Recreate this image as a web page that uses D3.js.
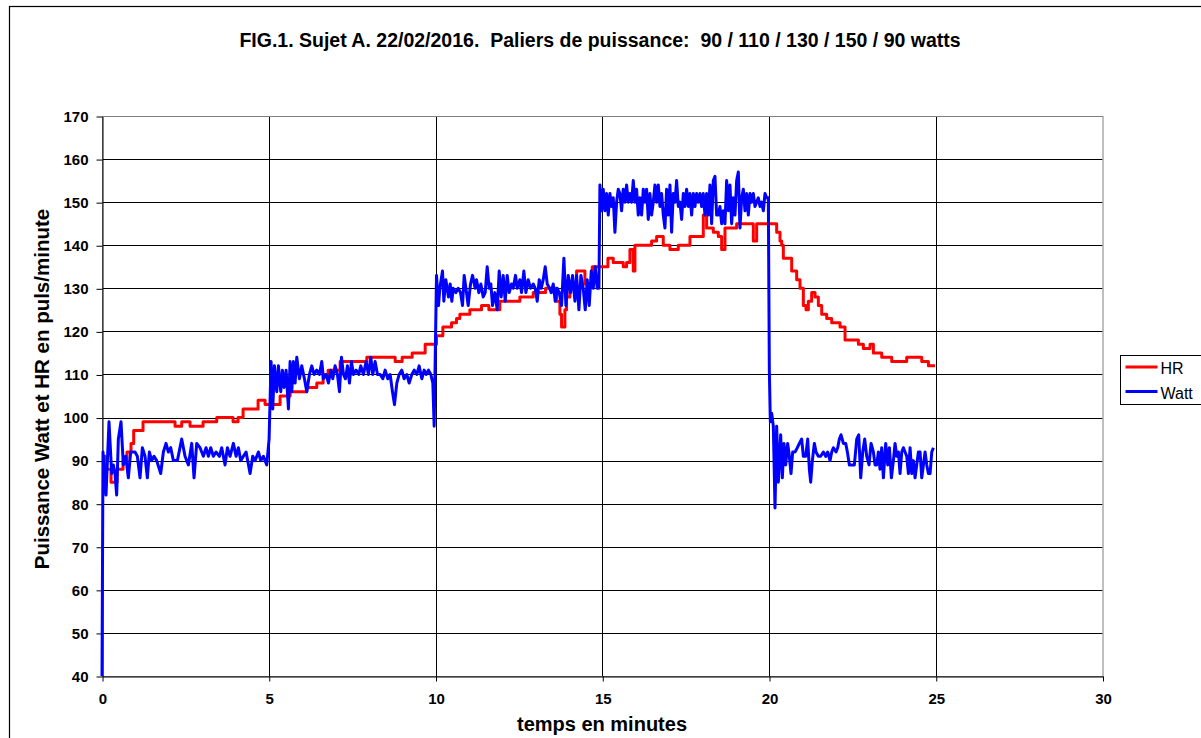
<!DOCTYPE html>
<html>
<head>
<meta charset="utf-8">
<script src="https://cdn.jsdelivr.net/npm/d3@7"></script>
<style>
  body { margin: 0; background: #fff; }
  svg { display: block; font-family: "Liberation Sans", Arial, sans-serif; }
</style>
</head>
<body>
<div id="chart"></div>
<script>
// tick labels
var xTicks = [0, 5, 10, 15, 20, 25, 30];
var yTicks = [40, 50, 60, 70, 80, 90, 100, 110, 120, 130, 140, 150, 160, 170];

// HR (puls/minute) : [minute, value]
var hrData = [[0,91],[0.1,88],[0.27,85],[0.45,88],[0.63,90],[0.75,92],[0.87,94],[0.95,97],[1.23,99],[2.19,98],[2.39,99],[2.64,98],[3.03,99],[3.44,100],[3.93,99],[4.08,100],[4.23,102],[4.68,104],[4.89,103],[5.34,105],[5.64,106],[6.14,107],[6.44,108],[6.63,110],[6.78,111],[7.14,113],[7.94,114],[8.79,113],[9.0,114],[9.3,115],[9.69,117],[10.03,119],[10.22,121],[10.48,122],[10.63,123],[10.73,124],[11.03,125],[11.38,126],[11.6,125],[11.93,127],[12.53,128],[12.93,129],[13.3,130],[13.63,127],[13.73,124],[13.78,121],[13.88,125],[13.93,128],[14.03,131],[14.23,134],[14.48,131],[14.7,135],[15.17,137],[15.33,136],[15.63,135],[15.73,136],[15.83,139],[15.93,134],[15.98,140],[16.48,141],[16.63,142],[16.83,140],[17.03,139],[17.28,140],[17.63,142],[18.03,147],[18.13,144],[18.33,143],[18.48,142],[18.58,139],[18.68,144],[19.03,145],[19.53,141],[19.63,145],[20.23,143],[20.33,141],[20.38,140],[20.43,137],[20.68,134],[20.83,132],[20.93,130],[21.03,126],[21.11,125],[21.18,127],[21.28,129],[21.38,128],[21.48,126],[21.58,124],[21.73,123],[21.88,122],[22.13,121],[22.28,118],[22.68,117],[22.83,116],[23.03,117],[23.13,115],[23.38,114],[23.68,113],[24.13,114],[24.58,113],[24.78,112],[24.98,112]];

// Watt, one array per power stage : [minute, value]
var watt90a = [[0,40],[0.03,92],[0.12,82],[0.21,99],[0.29,87],[0.34,89],[0.39,87],[0.44,82],[0.49,95],[0.57,99],[0.64,89],[0.71,91],[0.79,86],[0.86,92],[0.99,92],[1.06,91],[1.14,86],[1.21,93],[1.29,91],[1.36,86],[1.42,92],[1.49,90],[1.56,91],[1.64,90],[1.76,87],[1.84,92],[1.92,94],[1.99,92],[2.06,93],[2.14,90],[2.26,90],[2.39,95],[2.49,91],[2.59,89],[2.69,94],[2.76,86],[2.84,94],[2.94,93],[3.04,91],[3.12,93],[3.19,91],[3.26,93],[3.34,91],[3.42,92],[3.52,91],[3.59,93],[3.69,89],[3.76,93],[3.84,91],[3.94,94],[4.02,91],[4.09,93],[4.16,90],[4.24,91],[4.32,92],[4.44,87],[4.52,91],[4.59,90],[4.69,92],[4.76,90],[4.84,91],[4.94,89],[5.01,95]];
var watt110 = [[5.07,113],[5.12,102],[5.17,112],[5.24,106],[5.29,112],[5.36,106],[5.41,111],[5.46,107],[5.52,111],[5.59,102],[5.64,113],[5.69,106],[5.74,113],[5.79,108],[5.84,114],[5.92,109],[5.99,112],[6.07,109],[6.14,106],[6.22,110],[6.29,112],[6.36,110],[6.44,111],[6.52,110],[6.59,113],[6.64,109],[6.72,110],[6.79,108],[6.86,111],[6.92,109],[6.99,112],[7.06,110],[7.12,106],[7.18,114],[7.24,110],[7.3,109],[7.36,112],[7.42,108],[7.48,113],[7.54,110],[7.62,111],[7.7,110],[7.76,112],[7.84,110],[7.92,113],[7.99,110],[8.06,114],[8.12,110],[8.19,113],[8.26,110],[8.34,110],[8.42,109],[8.49,111],[8.57,109],[8.64,110],[8.71,106],[8.77,103],[8.84,108],[8.91,110],[8.99,111],[9.06,109],[9.14,110],[9.21,108],[9.29,110],[9.36,111],[9.44,110],[9.51,112],[9.59,109],[9.66,111],[9.72,110],[9.79,111],[9.86,110],[9.92,108],[9.96,98]];
var watt130 = [[10.03,133],[10.09,126],[10.13,130],[10.21,134],[10.25,127],[10.31,132],[10.39,128],[10.44,131],[10.49,127],[10.53,130],[10.61,129],[10.68,130],[10.75,129],[10.81,126],[10.86,133],[10.93,129],[10.98,126],[11.05,131],[11.11,133],[11.19,130],[11.23,132],[11.3,129],[11.36,131],[11.43,128],[11.49,129],[11.55,135],[11.61,130],[11.66,131],[11.71,126],[11.78,129],[11.85,125],[11.91,134],[11.97,128],[12.03,133],[12.09,127],[12.15,133],[12.21,129],[12.28,131],[12.33,130],[12.4,133],[12.45,130],[12.53,132],[12.58,129],[12.65,134],[12.71,129],[12.78,132],[12.85,130],[12.93,131],[12.99,130],[13.05,127],[13.11,132],[13.17,130],[13.23,132],[13.29,135],[13.35,131],[13.42,130],[13.47,129],[13.53,131],[13.59,127],[13.65,130],[13.71,129],[13.78,126],[13.85,137],[13.91,126],[13.98,133],[14.05,129],[14.11,133],[14.18,127],[14.23,133],[14.3,125],[14.36,133],[14.43,130],[14.49,125],[14.55,132],[14.61,126],[14.67,134],[14.73,130],[14.79,135],[14.85,130],[14.9,130]];
var watt150 = [[14.93,154],[14.98,148],[15.03,153],[15.08,148],[15.13,152],[15.18,147],[15.23,152],[15.28,149],[15.33,151],[15.38,143],[15.43,150],[15.48,153],[15.53,152],[15.58,148],[15.63,153],[15.68,150],[15.73,154],[15.78,150],[15.83,152],[15.88,150],[15.93,155],[15.98,150],[16.03,153],[16.08,147],[16.13,151],[16.18,147],[16.23,153],[16.28,150],[16.33,153],[16.38,146],[16.43,152],[16.48,147],[16.53,150],[16.58,154],[16.63,150],[16.68,154],[16.73,149],[16.78,152],[16.83,147],[16.88,144],[16.93,153],[16.98,147],[17.03,154],[17.08,143],[17.13,152],[17.18,150],[17.23,155],[17.28,149],[17.33,150],[17.38,146],[17.43,152],[17.48,149],[17.53,153],[17.58,149],[17.63,152],[17.68,147],[17.73,152],[17.78,149],[17.83,152],[17.88,150],[17.93,152],[17.98,149],[18.03,152],[18.08,147],[18.13,152],[18.18,147],[18.23,154],[18.28,145],[18.33,155],[18.38,156],[18.43,147],[18.48,147],[18.53,149],[18.58,145],[18.63,148],[18.68,145],[18.73,155],[18.78,148],[18.83,154],[18.88,145],[18.93,151],[18.98,147],[19.03,155],[19.08,157],[19.13,144],[19.18,151],[19.23,153],[19.28,148],[19.33,152],[19.38,147],[19.43,152],[19.48,150],[19.53,152],[19.58,149],[19.63,150],[19.68,151],[19.73,149],[19.78,150],[19.83,148],[19.88,152],[19.93,151],[19.98,151]];
var watt90b = [[20.01,111],[20.04,99],[20.08,101],[20.13,98],[20.18,79],[20.23,98],[20.28,85],[20.35,96],[20.4,86],[20.45,94],[20.5,89],[20.56,94],[20.61,91],[20.66,87],[20.71,92],[20.78,92],[20.85,93],[20.91,94],[20.98,95],[21.03,91],[21.1,91],[21.16,95],[21.21,88],[21.25,85],[21.3,90],[21.36,94],[21.41,92],[21.48,91],[21.55,91],[21.63,92],[21.7,91],[21.76,92],[21.83,90],[21.88,92],[21.93,93],[22.01,92],[22.06,93],[22.11,95],[22.16,96],[22.23,94],[22.3,94],[22.35,92],[22.41,89],[22.48,89],[22.56,89],[22.63,95],[22.69,96],[22.75,86],[22.81,92],[22.87,95],[22.93,91],[23.0,89],[23.06,94],[23.13,92],[23.18,89],[23.23,89],[23.28,92],[23.33,88],[23.38,93],[23.43,86],[23.5,94],[23.56,89],[23.61,93],[23.67,86],[23.73,90],[23.78,94],[23.83,91],[23.88,92],[23.93,87],[23.98,92],[24.03,93],[24.08,92],[24.13,91],[24.18,87],[24.23,93],[24.28,87],[24.33,90],[24.38,86],[24.43,89],[24.48,92],[24.53,92],[24.58,86],[24.63,89],[24.68,92],[24.73,89],[24.78,87],[24.83,87],[24.88,92],[24.93,93]];

var wattData = watt90a.concat(watt110, watt130, watt150, watt90b);

var width = 1201, height = 738;
var plot = { left: 102, right: 1102.5, top: 116, bottom: 676 };

var svg = d3.select('#chart').append('svg')
    .attr('width', width)
    .attr('height', height);

// outer chart frame (runs off the right and bottom of the picture)
svg.append('rect')
    .attr('x', 9.5).attr('y', 6.5)
    .attr('width', 1210).attr('height', 760)
    .attr('fill', 'none')
    .attr('stroke', '#000')
    .attr('stroke-width', 1.2);

var x = d3.scaleLinear().domain([0, 30]).range([plot.left, plot.right]);
var y = d3.scaleLinear().domain([40, 170]).range([plot.bottom, plot.top]);

// gridlines
var grid = svg.append('g').attr('class', 'grid');
grid.selectAll('line.h')
    .data(yTicks)
    .enter().append('line')
    .attr('class', 'h')
    .attr('x1', plot.left).attr('x2', plot.right)
    .attr('y1', (d) => Math.round(y(d)) + 0.5)
    .attr('y2', (d) => Math.round(y(d)) + 0.5)
    .attr('stroke', '#000')
    .attr('stroke-width', 1);
grid.selectAll('line.v')
    .data(xTicks.slice(1, -1))
    .enter().append('line')
    .attr('class', 'v')
    .attr('y1', plot.top).attr('y2', plot.bottom)
    .attr('x1', (d) => Math.round(x(d)) + 0.5)
    .attr('x2', (d) => Math.round(x(d)) + 0.5)
    .attr('stroke', '#000')
    .attr('stroke-width', 1);

// plot area border
svg.append('rect')
    .attr('x', plot.left + 0.5).attr('y', plot.top + 0.5)
    .attr('width', plot.right - plot.left).attr('height', plot.bottom - plot.top)
    .attr('fill', 'none')
    .attr('stroke', '#808080');

// axes
var yAxis = svg.append('g')
    .attr('transform', 'translate(' + (plot.left + 0.5) + ',0.5)')
    .call(d3.axisLeft(y).tickValues(yTicks).tickSize(6).tickPadding(8).tickSizeOuter(0));
var xAxis = svg.append('g')
    .attr('transform', 'translate(0.5,' + (plot.bottom + 0.5) + ')')
    .call(d3.axisBottom(x).tickValues(xTicks).tickSize(5).tickPadding(12).tickSizeOuter(0));

[xAxis, yAxis].forEach(function (ax) {
  ax.select('.domain').attr('stroke', '#000');
  ax.selectAll('.tick line').attr('stroke', '#000');
  ax.selectAll('.tick text')
    .attr('fill', '#000')
    .style('font-size', '15px')
    .style('font-weight', 'bold')
    .style('font-family', '"Liberation Sans", Arial, sans-serif');
});

// series
var line = d3.line()
    .x((d) => x(d[0]))
    .y((d) => y(d[1]));

svg.append('path')
    .datum(hrData)
    .attr('fill', 'none')
    .attr('stroke', '#ff0000')
    .attr('stroke-width', 3)
    .attr('stroke-linejoin', 'round')
    .attr('d', line.curve(d3.curveStepAfter));

svg.append('path')
    .datum(wattData)
    .attr('fill', 'none')
    .attr('stroke', '#0000ff')
    .attr('stroke-width', 3)
    .attr('stroke-linejoin', 'round')
    .attr('d', line.curve(d3.curveLinear));

// titles
svg.append('text')
    .attr('x', 600).attr('y', 47)
    .attr('text-anchor', 'middle')
    .style('font-size', '19.5px')
    .style('font-weight', 'bold')
    .style('white-space', 'pre')
    .text('FIG.1. Sujet A. 22/02/2016.  Paliers de puissance:  90 / 110 / 130 / 150 / 90 watts');

svg.append('text')
    .attr('x', 602).attr('y', 731)
    .attr('text-anchor', 'middle')
    .style('font-size', '20px')
    .style('font-weight', 'bold')
    .text('temps en minutes');

svg.append('text')
    .attr('transform', 'translate(49,389) rotate(-90)')
    .attr('text-anchor', 'middle')
    .style('font-size', '20.5px')
    .style('font-weight', 'bold')
    .text('Puissance Watt et HR en puls/minute');

// legend
var legend = svg.append('g').attr('transform', 'translate(1120.5,355.5)');
legend.append('rect')
    .attr('width', 90).attr('height', 49)
    .attr('fill', '#fff')
    .attr('stroke', '#000');
var items = [{ name: 'HR', color: '#ff0000' }, { name: 'Watt', color: '#0000ff' }];
items.forEach(function (it, i) {
  var yy = 11.5 + i * 24.5;
  legend.append('line')
    .attr('x1', 5).attr('x2', 37)
    .attr('y1', yy).attr('y2', yy)
    .attr('stroke', it.color)
    .attr('stroke-width', 3);
  legend.append('text')
    .attr('x', 40).attr('y', yy + 7)
    .style('font-size', '16px')
    .text(it.name);
});
</script>
</body>
</html>
